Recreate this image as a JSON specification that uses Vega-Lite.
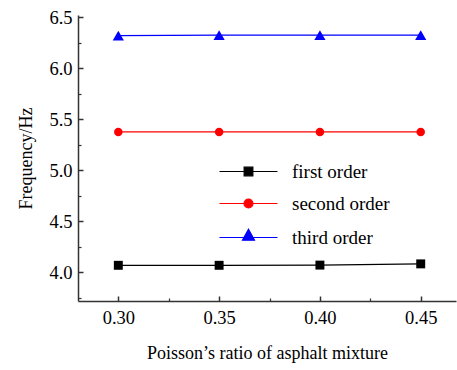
{
  "$schema": "https://vega.github.io/schema/vega-lite/v6.json",
  "width": 378,
  "height": 286,
  "autosize": {"type": "none"},
  "padding": {"left": 78, "top": 15, "right": 1, "bottom": 69},
  "background": "white",
  "config": {
    "view": {"stroke": null},
    "font": "Liberation Serif",
    "axis": {
      "labelFont": "Liberation Serif",
      "titleFont": "Liberation Serif",
      "labelFontSize": 18.5,
      "titleFontSize": 18,
      "titleFontWeight": "normal",
      "labelColor": "#000000",
      "titleColor": "#000000",
      "domainColor": "#333333",
      "tickColor": "#333333",
      "grid": false
    }
  },
  "data": {
    "values": [
      {"ratio": 0.30, "freq": 4.066, "order": "first order"},
      {"ratio": 0.35, "freq": 4.066, "order": "first order"},
      {"ratio": 0.40, "freq": 4.068, "order": "first order"},
      {"ratio": 0.45, "freq": 4.080, "order": "first order"},
      {"ratio": 0.30, "freq": 5.374, "order": "second order"},
      {"ratio": 0.35, "freq": 5.374, "order": "second order"},
      {"ratio": 0.40, "freq": 5.374, "order": "second order"},
      {"ratio": 0.45, "freq": 5.374, "order": "second order"},
      {"ratio": 0.30, "freq": 6.318, "order": "third order"},
      {"ratio": 0.35, "freq": 6.322, "order": "third order"},
      {"ratio": 0.40, "freq": 6.322, "order": "third order"},
      {"ratio": 0.45, "freq": 6.322, "order": "third order"}
    ]
  },
  "resolve": {"axis": {"x": "independent", "y": "independent"}},
  "layer": [
    {
      "mark": {"type": "line", "strokeWidth": 1.2},
      "encoding": {
        "x": {
          "field": "ratio", "type": "quantitative",
          "scale": {"domain": [0.28, 0.4675], "nice": false, "zero": false},
          "axis": {
            "values": [0.30, 0.35, 0.40, 0.45], "format": ".2f",
            "labelFont": "Liberation Serif", "labelFontSize": 18.5,
            "tickSize": -5, "labelPadding": 12, "domainWidth": 1.5, "tickWidth": 1.5,
            "title": "Poisson’s ratio of asphalt mixture", "titlePadding": 18
          }
        },
        "y": {
          "field": "freq", "type": "quantitative",
          "scale": {"domain": [3.716, 6.52], "nice": false, "zero": false},
          "axis": {
            "values": [4.0, 4.5, 5.0, 5.5, 6.0, 6.5], "format": ".1f",
            "labelFont": "Liberation Serif", "labelFontSize": 18.5,
            "tickSize": -5, "labelPadding": 11, "domainWidth": 1.5, "tickWidth": 1.5,
            "title": "Frequency/Hz", "titlePadding": 13
          }
        },
        "color": {
          "field": "order", "type": "nominal",
          "scale": {"domain": ["first order", "second order", "third order"], "range": ["#000000", "#ff0000", "#0000ff"]},
          "legend": {
            "orient": "none", "legendX": 161, "legendY": 147,
            "title": null, "symbolSize": 100,
            "labelFont": "Liberation Serif", "labelFontSize": 19, "labelColor": "#000000",
            "labelOffset": 34, "rowPadding": 12,
            "encode": {
              "symbols": {
                "update": {
                  "shape": {"signal": "datum.value === 'first order' ? 'M-5.8,0H5.8M-0.87,-0.87H0.87V0.87H-0.87Z' : datum.value === 'second order' ? 'M-5.8,0H5.8M0.9,0A0.9,0.9 0 1,1 -0.9,0A0.9,0.9 0 1,1 0.9,0Z' : 'M-5.8,0H5.8M0,-1.66L1.2,0.54L-1.2,0.54Z'"},
                  "size": {"value": 100},
                  "fill": {"signal": "datum.value === 'first order' ? '#000000' : datum.value === 'second order' ? '#ff0000' : '#0000ff'"},
                  "stroke": {"signal": "datum.value === 'first order' ? '#000000' : datum.value === 'second order' ? '#ff0000' : '#0000ff'"},
                  "strokeWidth": {"value": 1.2},
                  "opacity": {"value": 1},
                  "fillOpacity": {"value": 1},
                  "strokeOpacity": {"value": 1}
                }
              }
            }
          }
        }
      }
    },
    {
      "transform": [{"filter": "datum.order === 'first order'"}],
      "mark": {"type": "point", "filled": true, "opacity": 1, "shape": "square", "size": 80, "color": "#000000"},
      "encoding": {
        "x": {"field": "ratio", "type": "quantitative", "axis": null},
        "y": {"field": "freq", "type": "quantitative", "axis": null}
      }
    },
    {
      "transform": [{"filter": "datum.order === 'second order'"}],
      "mark": {"type": "point", "filled": true, "opacity": 1, "shape": "circle", "size": 72, "color": "#ff0000"},
      "encoding": {
        "x": {"field": "ratio", "type": "quantitative", "axis": null},
        "y": {"field": "freq", "type": "quantitative", "axis": null}
      }
    },
    {
      "transform": [{"filter": "datum.order === 'third order'"}],
      "mark": {"type": "point", "filled": true, "opacity": 1, "shape": "triangle-up", "size": 125, "color": "#0000ff"},
      "encoding": {
        "x": {"field": "ratio", "type": "quantitative", "axis": null},
        "y": {"field": "freq", "type": "quantitative", "axis": null}
      }
    },
    {
      "mark": {"type": "rule", "opacity": 0},
      "encoding": {
        "x": {
          "field": "ratio", "type": "quantitative",
          "axis": {"values": [0.325, 0.375, 0.425], "labels": false, "domain": false, "tickSize": -3, "tickWidth": 1.2, "title": null, "orient": "bottom"}
        },
        "y": {
          "field": "freq", "type": "quantitative",
          "axis": {"values": [3.75, 4.25, 4.75, 5.25, 5.75, 6.25], "labels": false, "domain": false, "tickSize": -3, "tickWidth": 1.2, "title": null, "orient": "left"}
        }
      }
    }
  ]
}
